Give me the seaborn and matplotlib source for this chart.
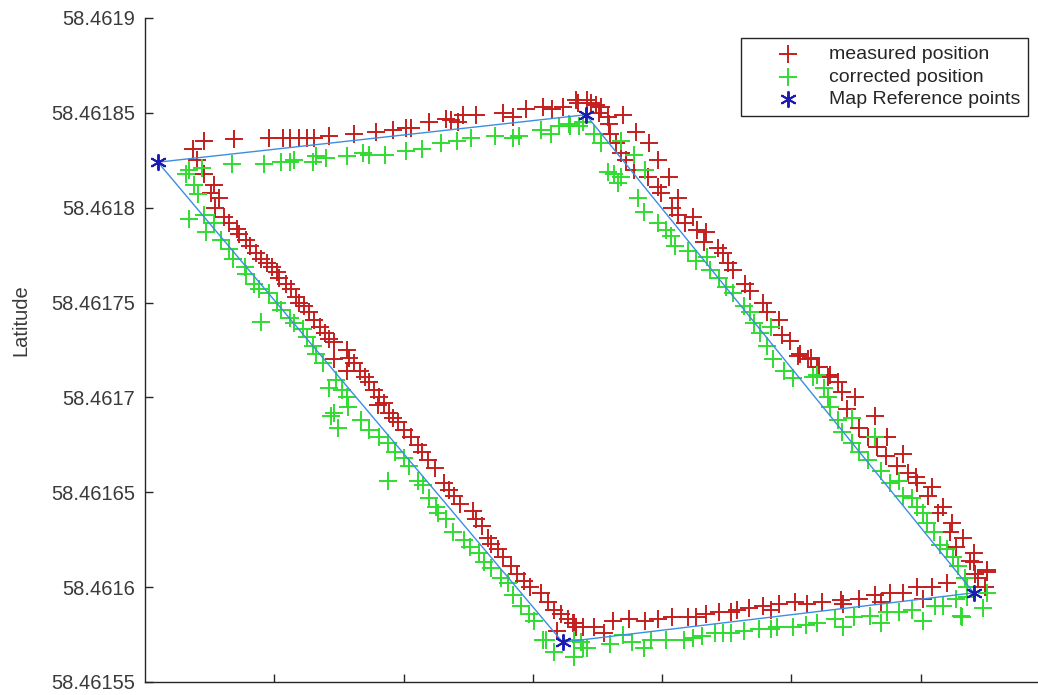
import matplotlib
matplotlib.use("Agg")
import matplotlib.pyplot as plt
import seaborn as sns

# measured GPS fixes (red +)
meas_lon = [
    15.578037, 15.578046, 15.578069, 15.578096, 15.578107, 15.578112, 15.578119, 15.578125,
    15.578131, 15.578142, 15.578162, 15.578179, 15.578192, 15.578202, 15.578206, 15.578220,
    15.578233, 15.578237, 15.578242, 15.578246, 15.578256, 15.578277, 15.578285, 15.578295,
    15.578308, 15.578315, 15.578323, 15.578333, 15.578342, 15.578349, 15.578351,
    15.578040, 15.578046, 15.578053, 15.578051, 15.578057, 15.578054, 15.578061, 15.578065,
    15.578071, 15.578073, 15.578078, 15.578081, 15.578086, 15.578090, 15.578094, 15.578098,
    15.578102, 15.578104, 15.578109, 15.578113, 15.578117, 15.578119, 15.578123, 15.578127,
    15.578131, 15.578135, 15.578139, 15.578142, 15.578146, 15.578146, 15.578156, 15.578158,
    15.578162, 15.578166, 15.578156, 15.578170, 15.578173, 15.578177, 15.578181, 15.578185,
    15.578189, 15.578180, 15.578192, 15.578196, 15.578200, 15.578206, 15.578211, 15.578214,
    15.578219, 15.578224, 15.578231, 15.578235, 15.578239, 15.578244, 15.578254, 15.578256,
    15.578261, 15.578265, 15.578268, 15.578273, 15.578277, 15.578283, 15.578288, 15.578293,
    15.578298, 15.578306, 15.578312, 15.578316, 15.578322, 15.578327, 15.578332, 15.578339,
    15.578319, 15.578331, 15.578333, 15.578347, 15.578355, 15.578362, 15.578374, 15.578387,
    15.578397, 15.578408, 15.578420, 15.578426, 15.578434, 15.578444, 15.578453, 15.578458,
    15.578467, 15.578478, 15.578484, 15.578490, 15.578503, 15.578512, 15.578524, 15.578538,
    15.578540, 15.578552, 15.578565, 15.578569, 15.578576, 15.578586, 15.578597, 15.578602,
    15.578609, 15.578620, 15.578642, 15.578651, 15.578650, 15.578641,
    15.578335, 15.578345, 15.578353, 15.578358, 15.578370, 15.578359, 15.578360, 15.578380,
    15.578364, 15.578390, 15.578368, 15.578397, 15.578372, 15.578378, 15.578389, 15.578405,
    15.578397, 15.578399, 15.578412, 15.578408, 15.578412, 15.578424, 15.578418, 15.578427,
    15.578434, 15.578432, 15.578443, 15.578447, 15.578451, 15.578455, 15.578464, 15.578468,
    15.578478, 15.578481, 15.578490, 15.578493, 15.578499, 15.578507, 15.578513, 15.578521,
    15.578528, 15.578505, 15.578515, 15.578520, 15.578530, 15.578536, 15.578539, 15.578549,
    15.578543, 15.578565, 15.578552, 15.578559, 15.578574, 15.578566, 15.578573, 15.578586,
    15.578582, 15.578590, 15.578596, 15.578597, 15.578609, 15.578606, 15.578617, 15.578613,
    15.578624, 15.578623, 15.578633, 15.578627, 15.578641, 15.578638, 15.578651, 15.578644,
]
meas_lat = [
    58.461831, 58.461835, 58.461836, 58.461837, 58.461837, 58.461837, 58.461837, 58.461837,
    58.461837, 58.461838, 58.461839, 58.461840, 58.461841, 58.461842, 58.461842, 58.461845,
    58.461847, 58.461846, 58.461845, 58.461849, 58.461849, 58.461850, 58.461848, 58.461852,
    58.461853, 58.461852, 58.461853, 58.461857, 58.461857, 58.461854, 58.461850,
    58.461825, 58.461818, 58.461812, 58.461808, 58.461805, 58.461800, 58.461795, 58.461792,
    58.461789, 58.461786, 58.461783, 58.461780, 58.461776, 58.461773, 58.461771, 58.461769,
    58.461766, 58.461763, 58.461760, 58.461757, 58.461753, 58.461750, 58.461748, 58.461745,
    58.461741, 58.461737, 58.461734, 58.461731, 58.461729, 58.461720, 58.461725, 58.461721,
    58.461718, 58.461714, 58.461714, 58.461711, 58.461708, 58.461704, 58.461700, 58.461697,
    58.461692, 58.461696, 58.461689, 58.461687, 58.461683, 58.461679, 58.461675, 58.461671,
    58.461667, 58.461663, 58.461655, 58.461651, 58.461648, 58.461644, 58.461640, 58.461636,
    58.461632, 58.461626, 58.461623, 58.461620, 58.461616, 58.461611, 58.461607, 58.461603,
    58.461600, 58.461597, 58.461592, 58.461588, 58.461586, 58.461583, 58.461581, 58.461579,
    58.461577, 58.461581, 58.461579, 58.461579, 58.461576, 58.461582, 58.461583, 58.461582,
    58.461583, 58.461584, 58.461584, 58.461584, 58.461586, 58.461587, 58.461587, 58.461588,
    58.461589, 58.461590, 58.461588, 58.461591, 58.461592, 58.461591, 58.461592, 58.461593,
    58.461591, 58.461594, 58.461596, 58.461592, 58.461597, 58.461597, 58.461600, 58.461594,
    58.461600, 58.461602, 58.461607, 58.461608, 58.461600, 58.461613,
    58.461855, 58.461855, 58.461853, 58.461848, 58.461849, 58.461844, 58.461839, 58.461840,
    58.461834, 58.461834, 58.461829, 58.461825, 58.461825, 58.461820, 58.461816, 58.461816,
    58.461811, 58.461808, 58.461805, 58.461800, 58.461796, 58.461795, 58.461792, 58.461788,
    58.461787, 58.461782, 58.461779, 58.461776, 58.461771, 58.461767, 58.461760, 58.461756,
    58.461750, 58.461745, 58.461741, 58.461733, 58.461730, 58.461723, 58.461720, 58.461716,
    58.461711, 58.461722, 58.461721, 58.461716, 58.461712, 58.461708, 58.461703, 58.461700,
    58.461694, 58.461690, 58.461684, 58.461679, 58.461679, 58.461674, 58.461669, 58.461670,
    58.461664, 58.461660, 58.461658, 58.461655, 58.461653, 58.461648, 58.461642, 58.461639,
    58.461634, 58.461629, 58.461626, 58.461621, 58.461618, 58.461614, 58.461609, 58.461605,
]

# corrected positions (green +)
corr_lon = [
    15.578034, 15.578044, 15.578067, 15.578092, 15.578105, 15.578112, 15.578115, 15.578130,
    15.578132, 15.578140, 15.578156, 15.578169, 15.578173, 15.578186, 15.578202, 15.578214,
    15.578229, 15.578241, 15.578252, 15.578271, 15.578285, 15.578289, 15.578306, 15.578314,
    15.578320, 15.578328, 15.578336,
    15.578032, 15.578038, 15.578041, 15.578034, 15.578046, 15.578047, 15.578053, 15.578059,
    15.578065, 15.578068, 15.578077, 15.578078, 15.578084, 15.578088, 15.578090, 15.578096,
    15.578102, 15.578105, 15.578112, 15.578115, 15.578122, 15.578125, 15.578130, 15.578132,
    15.578138, 15.578142, 15.578148, 15.578152, 15.578156, 15.578146, 15.578157, 15.578144,
    15.578149, 15.578167, 15.578173, 15.578181, 15.578188, 15.578193, 15.578200, 15.578204,
    15.578188, 15.578211, 15.578215, 15.578220, 15.578225, 15.578227, 15.578233, 15.578238,
    15.578247, 15.578251, 15.578258, 15.578262, 15.578268, 15.578275, 15.578281, 15.578285,
    15.578291, 15.578297, 15.578301, 15.578308, 15.578316, 15.578332, 15.578339, 15.578332,
    15.578310, 15.578337, 15.578342, 15.578360, 15.578370, 15.578377, 15.578386, 15.578391,
    15.578403, 15.578417, 15.578424, 15.578431, 15.578441, 15.578447, 15.578453, 15.578463,
    15.578475, 15.578484, 15.578489, 15.578501, 15.578511, 15.578520, 15.578534, 15.578540,
    15.578548, 15.578561, 15.578569, 15.578574, 15.578583, 15.578593, 15.578602, 15.578611,
    15.578617, 15.578632, 15.578627, 15.578648, 15.578651, 15.578636,
    15.578329, 15.578339, 15.578347, 15.578353, 15.578368, 15.578358, 15.578363, 15.578366,
    15.578368, 15.578378, 15.578387, 15.578381, 15.578386, 15.578397, 15.578403, 15.578407,
    15.578410, 15.578420, 15.578426, 15.578435, 15.578437, 15.578444, 15.578449, 15.578455,
    15.578463, 15.578468, 15.578471, 15.578476, 15.578484, 15.578481, 15.578486, 15.578494,
    15.578520, 15.578501, 15.578517, 15.578525, 15.578528, 15.578530, 15.578536, 15.578539,
    15.578547, 15.578547, 15.578552, 15.578559, 15.578565, 15.578569, 15.578576, 15.578583,
    15.578586, 15.578593, 15.578597, 15.578602, 15.578605, 15.578610, 15.578615, 15.578620,
    15.578625, 15.578629, 15.578634, 15.578636, 15.578631,
]
corr_lat = [
    58.461820, 58.461821, 58.461823, 58.461823, 58.461824, 58.461824, 58.461825, 58.461824,
    58.461827, 58.461826, 58.461827, 58.461829, 58.461828, 58.461828, 58.461830, 58.461831,
    58.461834, 58.461835, 58.461837, 58.461838, 58.461837, 58.461838, 58.461841, 58.461839,
    58.461843, 58.461844, 58.461843,
    58.461818, 58.461812, 58.461807, 58.461794, 58.461796, 58.461787, 58.461792, 58.461783,
    58.461778, 58.461773, 58.461769, 58.461765, 58.461760, 58.461757, 58.461740, 58.461755,
    58.461750, 58.461746, 58.461742, 58.461739, 58.461736, 58.461732, 58.461727, 58.461723,
    58.461718, 58.461705, 58.461709, 58.461704, 58.461700, 58.461692, 58.461695, 58.461690,
    58.461684, 58.461688, 58.461683, 58.461679, 58.461676, 58.461671, 58.461668, 58.461664,
    58.461656, 58.461656, 58.461654, 58.461647, 58.461642, 58.461639, 58.461636, 58.461629,
    58.461625, 58.461621, 58.461618, 58.461613, 58.461610, 58.461605, 58.461602, 58.461596,
    58.461590, 58.461586, 58.461582, 58.461572, 58.461566, 58.461563, 58.461568, 58.461572,
    58.461572, 58.461571, 58.461568, 58.461570, 58.461575, 58.461571, 58.461568, 58.461572,
    58.461572, 58.461572, 58.461573, 58.461574, 58.461576, 58.461576, 58.461576, 58.461577,
    58.461578, 58.461578, 58.461579, 58.461579, 58.461580, 58.461581, 58.461583, 58.461579,
    58.461584, 58.461585, 58.461581, 58.461587, 58.461587, 58.461588, 58.461582, 58.461590,
    58.461590, 58.461584, 58.461594, 58.461589, 58.461597, 58.461595,
    58.461843, 58.461845, 58.461839, 58.461834, 58.461835, 58.461819, 58.461818, 58.461813,
    58.461816, 58.461828, 58.461820, 58.461805, 58.461798, 58.461792, 58.461788, 58.461785,
    58.461780, 58.461777, 58.461772, 58.461774, 58.461767, 58.461763, 58.461758, 58.461755,
    58.461748, 58.461745, 58.461739, 58.461734, 58.461737, 58.461727, 58.461720, 58.461714,
    58.461712, 58.461710, 58.461711, 58.461705, 58.461700, 58.461695, 58.461688, 58.461682,
    58.461689, 58.461676, 58.461671, 58.461667, 58.461679, 58.461661, 58.461655, 58.461656,
    58.461648, 58.461647, 58.461642, 58.461639, 58.461634, 58.461629, 58.461622, 58.461620,
    58.461616, 58.461611, 58.461605, 58.461600, 58.461585,
]

# map reference points (corners of the track)
ref_lon = [15.578010, 15.578341, 15.578641, 15.578323]
ref_lat = [58.461824, 58.461849, 58.461597, 58.461571]

lon_min, lon_max = 15.578000, 15.5786907
lat_ticks = [58.46155, 58.4616, 58.46165, 58.4617, 58.46175, 58.4618, 58.46185, 58.4619]
lat_labels = ["58.46155", "58.4616", "58.46165", "58.4617", "58.46175", "58.4618", "58.46185", "58.4619"]
lon_ticks = [15.5781, 15.5782, 15.5783, 15.5784, 15.5785, 15.5786]

sns.set_style("ticks", {"xtick.direction": "in", "ytick.direction": "in",
                        "axes.edgecolor": "#262626"})
plt.rcParams["font.family"] = ["Liberation Sans", "DejaVu Sans"]

fig = plt.figure(figsize=(10.38, 6.95), dpi=100)
ax = fig.add_axes([145 / 1038, 13 / 695, 1 - 145 / 1038, 664 / 695])

sns.scatterplot(x=meas_lon, y=meas_lat, marker="+", s=150, linewidth=1.4,
                color="#c41e1e", label="measured position", ax=ax, zorder=2)
sns.scatterplot(x=corr_lon, y=corr_lat, marker="+", s=150, linewidth=1.4,
                color="#30dc30", label="corrected position", ax=ax, zorder=2)

# reference track, closed
sns.lineplot(x=ref_lon + ref_lon[:1], y=ref_lat + ref_lat[:1], sort=False,
             estimator=None, color="#3b8ee2", linewidth=1.0, ax=ax, zorder=3,
             legend=False)
sns.scatterplot(x=ref_lon, y=ref_lat, marker=(6, 2, 0), s=120, linewidth=1.4,
                color="#1c1cb4", label="Map Reference points", ax=ax, zorder=4)

ax.set_xlim(lon_min, lon_max)
ax.set_ylim(58.46155, 58.4619)
ax.set_yticks(lat_ticks)
ax.set_yticklabels(lat_labels)
ax.set_xticks(lon_ticks)
ax.set_xticklabels([""] * len(lon_ticks))
ax.tick_params(axis="both", length=6, width=1, color="#262626",
               labelsize=14.5, labelcolor="#3a3a3a", pad=7)
sns.despine(ax=ax)
for side in ["left", "bottom"]:
    ax.spines[side].set_linewidth(1.0)

ax.set_ylabel("Latitude", fontsize=14.5, color="#3a3a3a")
ax.yaxis.set_label_coords(-0.128, 0.545)

leg = ax.legend(loc="upper right", bbox_to_anchor=(1028 / 1038, 1 - 38 / 695),
                bbox_transform=fig.transFigure, frameon=True, fancybox=False,
                framealpha=1, edgecolor="#262626", borderaxespad=0, borderpad=0.4,
                fontsize=14, handlelength=4.0, handletextpad=0.1,
                labelspacing=0.24, scatterpoints=1)
leg.get_frame().set_linewidth(1.0)
for t in leg.get_texts():
    t.set_color("#262626")

plt.savefig("out.png", dpi=100)
